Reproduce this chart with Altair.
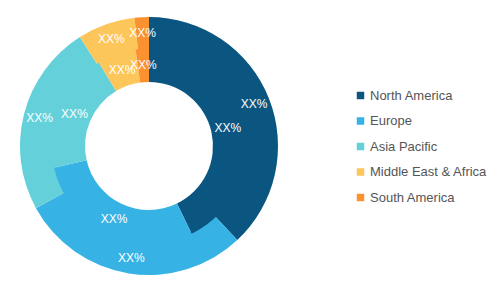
import altair as alt
import pandas as pd

regions = ["North America", "Europe", "Asia Pacific", "Middle East & Africa", "South America"]
colors = ["#0b5680", "#37b2e5", "#64d1da", "#fdc65a", "#fb912f"]
outer_values = [38.0, 29.0, 24.0, 7.2, 1.8]
inner_values = [42.8, 28.6, 20.0, 6.4, 2.2]
label_text = "XX%"

outer = pd.DataFrame({"region": regions, "value": outer_values, "order": range(5), "label": label_text})
inner = pd.DataFrame({"region": regions, "value": inner_values, "order": range(5), "label": label_text})

cx, cy = 149, 146

color = alt.Color(
    "region:N",
    scale=alt.Scale(domain=regions, range=colors),
    sort=regions,
    legend=alt.Legend(
        title=None,
        orient="none",
        legendX=354,
        legendY=89,
        symbolType="square",
        symbolSize=56,
        symbolStrokeWidth=0,
        labelFontSize=13,
        labelFont="Liberation Sans",
        labelColor="#555555",
        rowPadding=11.5,
        labelOffset=3,
        labelLimit=200,
    ),
)

def ring(df, r_out, r_in, r_label):
    base = alt.Chart(df).encode(
        theta=alt.Theta("value:Q", stack=True),
        order=alt.Order("order:Q"),
    )
    arc = base.mark_arc(stroke=None).encode(
        color=color,
        radius=alt.value(r_out),
        radius2=alt.value(r_in),
        x=alt.value(cx),
        y=alt.value(cy),
    )
    txt = base.mark_text(
        radius=r_label,
        color="white",
        fontSize=12,
        font="Liberation Sans",
        align="center",
        baseline="middle",
    ).encode(text="label:N", x=alt.value(cx), y=alt.value(cy))
    return arc, txt

o_arc, o_txt = ring(outer, 129, 95, 113)
i_arc, i_txt = ring(inner, 97.5, 64, 81)

chart = alt.layer(o_arc, i_arc, o_txt, i_txt).properties(
    width=500,
    height=290,
    autosize=alt.AutoSizeParams(type="none"),
    padding=0,
).configure_view(stroke=None)

chart.save("out.html", embed_options={"renderer": "svg", "actions": False})
